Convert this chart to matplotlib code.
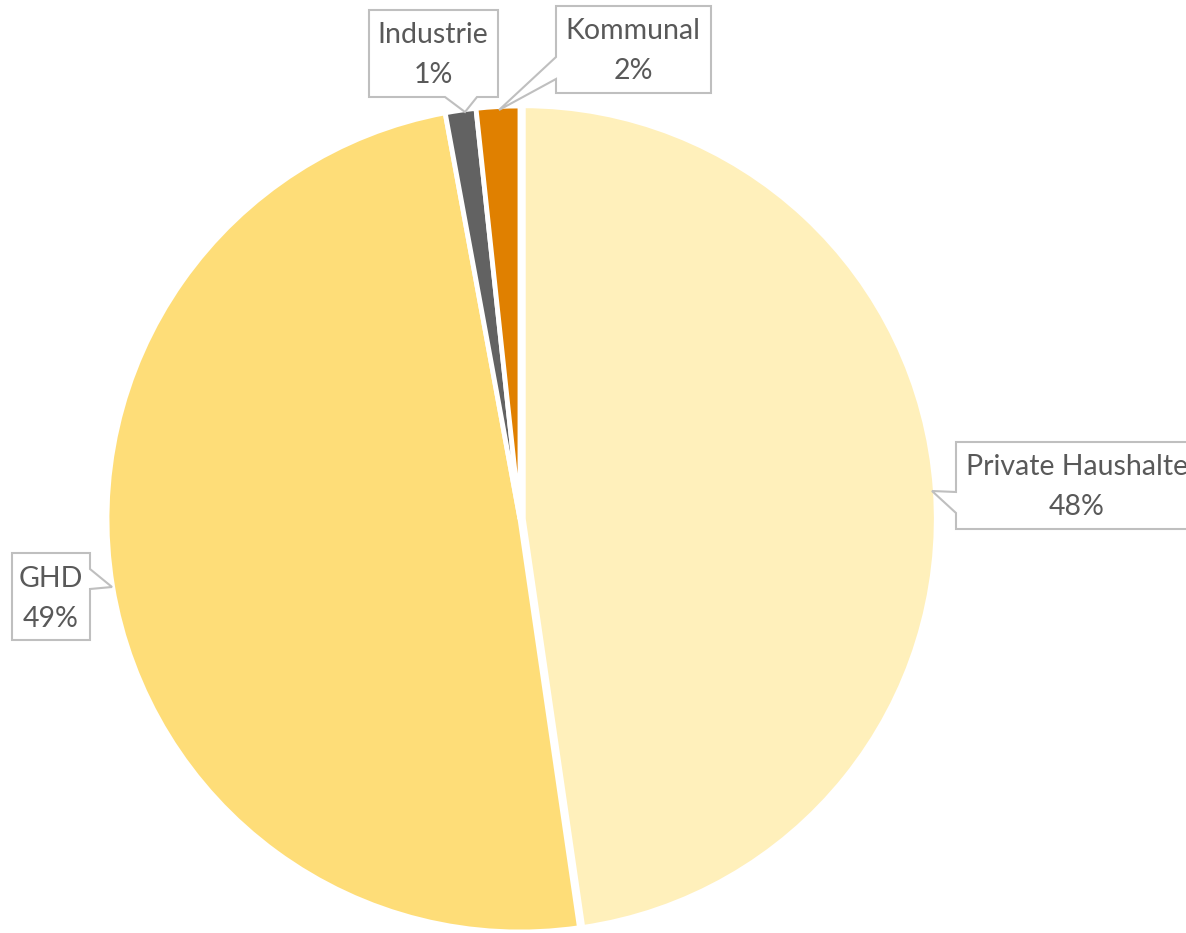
import matplotlib.pyplot as plt
from matplotlib.patches import Polygon
from matplotlib.transforms import Affine2D

# Verbrauch nach Sektoren
sectors = ['Private Haushalte', 'GHD', 'Industrie', 'Kommunal']
shares = [47.7, 49.4, 1.2, 1.7]
colors = ['#FFF0BB', '#FEDD78', '#626262', '#E08000']

W, H = 1186, 933
fig = plt.figure(figsize=(W / 100, H / 100), dpi=100)
ax = fig.add_axes([107 / W, 1 / H, 826 / W, 826 / H])
ax.pie(shares, colors=colors, startangle=90, counterclock=False,
       explode=[0.008, 0, 0, 0],
       wedgeprops={'edgecolor': 'white', 'linewidth': 3.5})
ax.set_xlim(-1, 1)
ax.set_ylim(-1, 1)
ax.set_aspect('equal')

# pixel coordinates measured from top-left
px = Affine2D().scale(1 / 100).scale(1, -1).translate(0, H / 100) + fig.dpi_scale_trans

# callout boxes: (box left, top, right, bottom), pointer side, pointer base a/b, tip, text center
callouts = {
    'Private Haushalte': ((956, 442, 1200, 529), 'left', (492, 513), (932, 491), (1077, 487)),
    'GHD': ((12, 553, 90, 640), 'right', (569, 589), (112, 587), (51, 599)),
    'Industrie': ((369, 10, 498, 97), 'bottom', (445, 477), (465, 112), (433, 55)),
    'Kommunal': ((556, 6, 711, 93), 'left', (57, 79), (499, 110), (633, 51)),
}

for name, val in zip(sectors, shares):
    (l, t, r, b), side, (a1, a2), tip, tc = callouts[name]
    if side == 'left':
        pts = [(l, t), (r, t), (r, b), (l, b), (l, a2), tip, (l, a1)]
    elif side == 'right':
        pts = [(l, t), (r, t), (r, a1), tip, (r, a2), (r, b), (l, b)]
    else:
        pts = [(l, t), (r, t), (r, b), (a2, b), tip, (a1, b), (l, b)]
    fig.patches.append(Polygon(pts, closed=True, facecolor='white', edgecolor='#BFBFBF',
                               linewidth=1.5, transform=px))
    fig.text(tc[0], tc[1], f'{name}\n{round(val)}%', transform=px, ha='center', va='center',
             fontsize=20.5, color='#595959', family='Lato', linespacing=1.65)

fig.savefig('out.png', dpi=100)
